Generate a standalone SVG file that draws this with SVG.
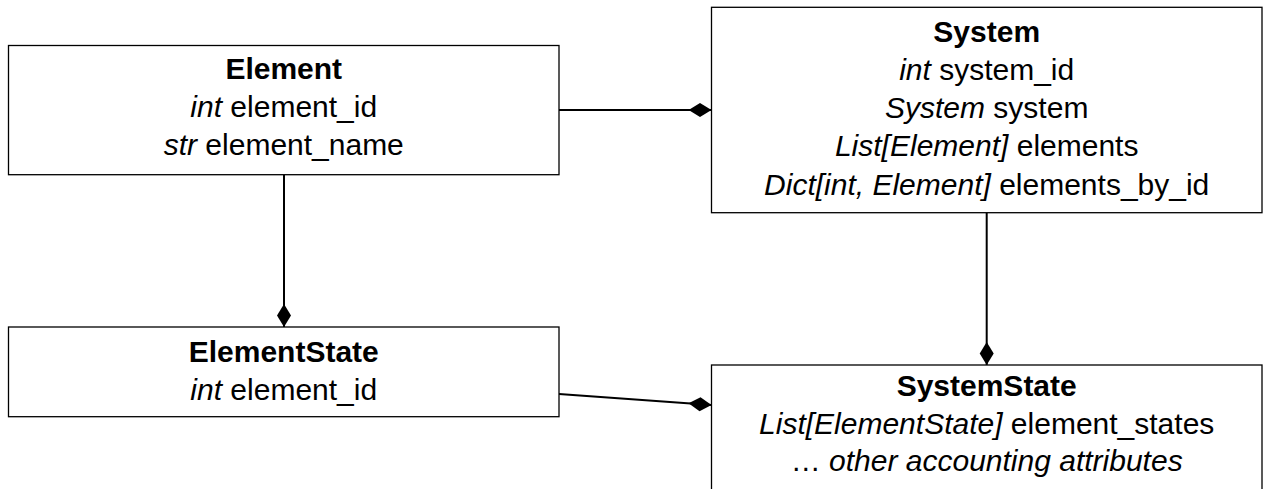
<svg xmlns="http://www.w3.org/2000/svg" width="1264" height="489" viewBox="0 0 1264 489">
<defs>
<marker id="dia" markerUnits="userSpaceOnUse" markerWidth="24" markerHeight="16" viewBox="0 -8 24 16" refX="23" refY="0" orient="auto">
<path d="M0,0 L11.5,-7 L23,0 L11.5,7 Z" fill="#000"/>
</marker>
</defs>
<style>
.box{fill:#fff;stroke:#000;stroke-width:1.3}
.t{font-family:"Liberation Sans",Arial,sans-serif;font-size:30px;fill:#000;text-anchor:middle}
.b{font-weight:bold}
.i{font-style:italic}
.c{fill:none;stroke:#000;stroke-width:2;marker-end:url(#dia)}
</style>
<rect width="1264" height="489" fill="#fff"/>
<g id="connectors">
<line class="c" x1="559" y1="110" x2="711.5" y2="110"/>
<line class="c" x1="284" y1="174.7" x2="284" y2="327"/>
<line class="c" x1="986.7" y1="212.7" x2="986.7" y2="365"/>
<line class="c" x1="559" y1="394" x2="711.5" y2="405"/>
</g>
<g id="element">
<rect class="box" x="8.5" y="45.5" width="550.5" height="129.2"/>
<text class="t b" x="283.75" y="79">Element</text>
<text class="t" x="283.75" y="117"><tspan class="i">int</tspan> element_id</text>
<text class="t" x="283.75" y="155"><tspan class="i">str</tspan> element_name</text>
</g>
<g id="system">
<rect class="box" x="711.5" y="7.3" width="550.5" height="205.4"/>
<text class="t b" x="986.7" y="42">System</text>
<text class="t" x="986.7" y="80"><tspan class="i">int</tspan> system_id</text>
<text class="t" x="986.7" y="118"><tspan class="i">System</tspan> system</text>
<text class="t" x="986.7" y="156"><tspan class="i">List[Element]</tspan> elements</text>
<text class="t" x="986.7" y="195"><tspan class="i">Dict[int, Element]</tspan> elements_by_id</text>
</g>
<g id="elementstate">
<rect class="box" x="8.5" y="327" width="550.5" height="89.7"/>
<text class="t b" x="283.75" y="362">ElementState</text>
<text class="t" x="283.75" y="400"><tspan class="i">int</tspan> element_id</text>
</g>
<g id="systemstate">
<rect class="box" x="711.5" y="365" width="550.5" height="135"/>
<text class="t b" x="986.7" y="396">SystemState</text>
<text class="t" x="986.7" y="434"><tspan class="i">List[ElementState]</tspan> element_states</text>
<text class="t" x="986.7" y="471">… <tspan class="i">other accounting attributes</tspan></text>
</g>
</svg>
